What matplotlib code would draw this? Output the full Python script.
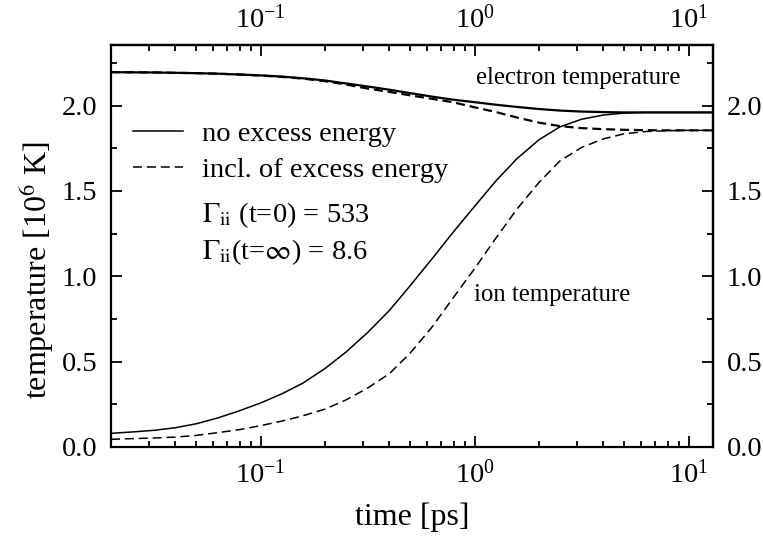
import matplotlib
matplotlib.use("Agg")
import matplotlib.pyplot as plt
from matplotlib.ticker import (FixedLocator, LogLocator, MultipleLocator,
                               FormatStrFormatter, NullFormatter, LogFormatterSciNotation)

plt.rcParams['font.family'] = ['Liberation Serif', 'DejaVu Serif']
plt.rcParams['mathtext.fontset'] = 'stix'
plt.rcParams['lines.scale_dashes'] = False

# time points [ps]
t = [0.02, 0.025, 0.032, 0.04, 0.05, 0.063, 0.08, 0.1, 0.126, 0.158, 0.2, 0.25, 0.316, 0.4, 0.5,
     0.63, 0.79, 1.0, 1.26, 1.58, 2.0, 2.5, 3.16, 4.0, 5.0, 6.3, 7.9, 10.0, 12.6, 13.0]

# electron temperature [10^6 K]
te_no = [2.196, 2.195, 2.194, 2.192, 2.190, 2.187, 2.182, 2.177, 2.170, 2.160, 2.147, 2.130, 2.112, 2.093, 2.073,
         2.053, 2.035, 2.020, 2.005, 1.992, 1.980, 1.971, 1.965, 1.962, 1.960, 1.960, 1.960, 1.960, 1.960, 1.960]
te_ex = [2.196, 2.195, 2.194, 2.192, 2.190, 2.187, 2.182, 2.176, 2.168, 2.158, 2.143, 2.124, 2.100, 2.080, 2.060,
         2.040, 2.020, 1.990, 1.962, 1.930, 1.900, 1.880, 1.868, 1.862, 1.858, 1.856, 1.855, 1.855, 1.855, 1.855]

# ion temperature [10^6 K]
ti_no = [0.080, 0.088, 0.098, 0.113, 0.136, 0.170, 0.213, 0.258, 0.312, 0.375, 0.460, 0.555, 0.670, 0.800, 0.945,
         1.100, 1.255, 1.410, 1.560, 1.690, 1.800, 1.875, 1.920, 1.945, 1.956, 1.960, 1.960, 1.960, 1.960, 1.960]
ti_ex = [0.045, 0.049, 0.053, 0.058, 0.068, 0.084, 0.102, 0.125, 0.152, 0.183, 0.222, 0.275, 0.345, 0.430, 0.550,
         0.700, 0.870, 1.045, 1.225, 1.395, 1.550, 1.675, 1.755, 1.805, 1.835, 1.848, 1.853, 1.855, 1.855, 1.855]

# tick values
xticks = [0.1, 1, 10]
yticks = [0.0, 0.5, 1.0, 1.5, 2.0]

fig = plt.figure(figsize=(7.63, 5.39), dpi=100)
ax = fig.add_axes([111/763, 1-447/539, (713-111)/763, (447-45)/539])

dash = (0, (6.5, 3.5))
ax.plot(t, te_no, color='black', lw=1.6)
ax.plot(t, te_ex, color='black', lw=1.6, linestyle=dash)
l1, = ax.plot(t, ti_no, color='black', lw=1.1, label='no excess energy')
l2, = ax.plot(t, ti_ex, color='black', lw=1.1, linestyle=dash, label='incl. of excess energy')

ax.set_xscale('log')
ax.set_xlim(0.02, 13)
ax.set_ylim(0, 2.355)

def style_x(a):
    a.xaxis.set_major_locator(FixedLocator(xticks))
    a.xaxis.set_major_formatter(LogFormatterSciNotation())
    a.xaxis.set_minor_locator(LogLocator(base=10, subs=range(2, 10)))
    a.xaxis.set_minor_formatter(NullFormatter())

def style_y(a):
    a.yaxis.set_major_locator(FixedLocator(yticks))
    a.yaxis.set_minor_locator(MultipleLocator(0.25))
    a.yaxis.set_major_formatter(FormatStrFormatter('%.1f'))

style_x(ax)
style_y(ax)

ax.tick_params(which='both', direction='in', labelsize=20.5, width=1.3)
ax.tick_params(axis='x', which='major', pad=9.5)
ax.tick_params(axis='y', which='major', pad=10)
ax.tick_params(which='major', length=8)
ax.tick_params(which='minor', length=4.5)
for s in ax.spines.values():
    s.set_linewidth(1.6)

secx = ax.secondary_xaxis('top')
style_x(secx)
secx.tick_params(which='both', direction='in', labelsize=20.5, width=1.3)
secx.tick_params(which='major', length=8, pad=8)
secx.tick_params(which='minor', length=4.5)
secx.spines['top'].set_linewidth(1.6)

secy = ax.secondary_yaxis('right')
style_y(secy)
secy.tick_params(which='both', direction='in', labelsize=20.5, width=1.3)
secy.tick_params(which='major', length=8, pad=10)
secy.tick_params(which='minor', length=4.5)
secy.spines['right'].set_linewidth(1.6)

ax.set_xlabel('time [ps]', fontsize=23)
ax.xaxis.label.set_va('center')
ax.xaxis.set_label_coords(0.5, -(517-447)/402)
ax.set_ylabel(r'temperature [10$^{6}$ K]', fontsize=23)
ax.yaxis.label.set_va('center')
ax.yaxis.set_label_coords(-(111-37)/602, (447-270)/402)

ax.legend(handles=[l1, l2], loc='upper left', bbox_to_anchor=(133/763, 1-121/539),
          bbox_transform=fig.transFigure, frameon=False, fontsize=20.5,
          handlelength=1.75, handletextpad=0.67, borderpad=0.0,
          borderaxespad=0.0, labelspacing=0.36)

ax.text(202, 539-215, r'$\Gamma_{\rm ii}$ (t=0) = 533', transform=None,
        fontsize=20.5, va='center', ha='left')
ax.text(202, 539-252, r'$\Gamma_{\rm ii}$(t=$\infty$) = 8.6', transform=None,
        fontsize=20.5, va='center', ha='left')

ax.text(578, 539-78, 'electron temperature', transform=None, fontsize=17.8,
        va='center', ha='center')
ax.text(474, 539-295, 'ion temperature', transform=None, fontsize=17.8,
        va='center', ha='left')

fig.savefig('out.png', dpi=100)
